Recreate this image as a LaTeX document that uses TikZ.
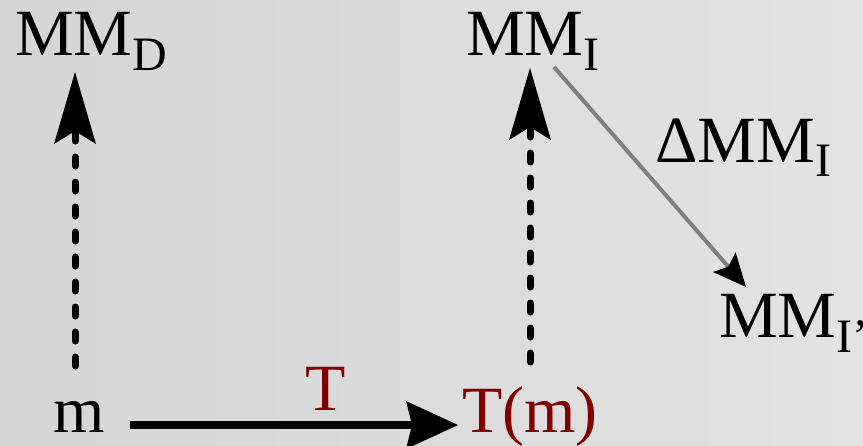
\documentclass[tikz,border=0pt]{standalone}
\usepackage{fontspec}
\setmainfont{Liberation Serif}
\usetikzlibrary{arrows.meta}
\definecolor{bgA}{HTML}{D5D5D5}
\definecolor{bgB}{HTML}{E3E3E3}
\definecolor{tred}{HTML}{800000}
\definecolor{lgray}{HTML}{7F7F7F}
\newcommand\subsc[2][15pt]{\raisebox{-#1}{\fontsize{48}{48}\selectfont #2}}
\begin{document}
\begin{tikzpicture}[x=1pt,y=-1pt,
  lbl/.style={anchor=base west,inner sep=0pt,font=\fontsize{66}{66}\selectfont},
  dotarrow/.style={line width=7pt,line cap=round,dash pattern=on 9pt off 16pt,
    -{Stealth[length=72pt,width=42pt,inset=13pt,line width=0pt]}},
  mainarrow/.style={line width=8pt,-{Stealth[length=52pt,width=48pt,inset=6pt,line width=0pt]}},
  deltaarrow/.style={draw=lgray,line width=4pt,-{Stealth[color=black,length=33pt,width=30pt,inset=6pt,line width=0pt]}}]
\shade[left color=bgA,right color=bgB] (0,0) rectangle (863,445);
\useasboundingbox (0,0) rectangle (863,445);
\node[lbl] (MMD) at (15,55) {MM\subsc{D}};
\node[lbl] (MMI) at (466,55) {MM\subsc{I}};
\node[lbl] (dMMI) at (655,162) {ΔMM\subsc[14pt]{I}};
\node[lbl] (MMIp) at (719,337) {MM\subsc{I\symbol{"27}}};
\node[lbl] (m) at (53,432) {m};
\node[lbl,text=tred] (Tm) at (462,432) {T(m)};
\node[lbl,text=tred] (T) at (305,410) {T};
\coordinate (d1b) at (75,366);
\coordinate (d1t) at (75,72);
\coordinate (d2b) at (530,362);
\coordinate (d2t) at (530,68);
\coordinate (ms) at (130,425);
\coordinate (me) at (458,425);
\coordinate (gs) at (554,67);
\coordinate (ge) at (746,287);
\draw[dotarrow] (d1b) -- (d1t);
\draw[dotarrow] (d2b) -- (d2t);
\draw[mainarrow] (ms) -- (me);
\draw[deltaarrow] (gs) -- (ge);
\end{tikzpicture}
\end{document}
